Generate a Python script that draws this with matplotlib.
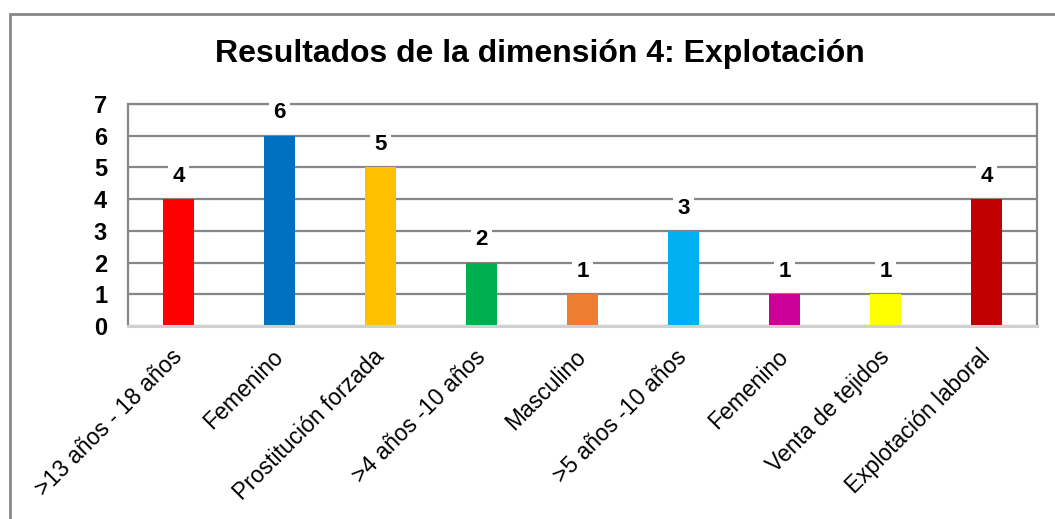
import matplotlib.pyplot as plt
import matplotlib.transforms as mtransforms
from matplotlib.patches import Rectangle

# Datos del gráfico
categorias = ['>13 años - 18 años', 'Femenino', 'Prostitución forzada', '>4 años -10 años',
              'Masculino', '>5 años -10 años', 'Femenino', 'Venta de tejidos', 'Explotación laboral']
valores = [4, 6, 5, 2, 1, 3, 1, 1, 4]
colores = ['#FF0000', '#0070C0', '#FFC000', '#00B050', '#ED7D31',
           '#00B0F0', '#CC0099', '#FFFF00', '#C00000']

plt.rcParams['font.family'] = ['Liberation Sans', 'DejaVu Sans']

W, H = 1055, 519
fig = plt.figure(figsize=(W / 100, H / 100), dpi=100)
ax = fig.add_axes([128 / W, 1 - 326 / H, (1037 - 128) / W, (326 - 104) / H])

x = list(range(len(valores)))
ax.bar(x, valores, width=0.31, color=colores, zorder=3)

ax.set_xlim(-0.5, len(valores) - 0.5)
ax.set_ylim(0, 7)
ax.set_yticks(range(8))
ax.yaxis.grid(True, color='#878787', linewidth=1.6, zorder=0)
ax.tick_params(axis='y', length=0, pad=15, labelsize=17)
for t in ax.get_yticklabels():
    t.set_fontweight('bold')

ax.set_xticks(x)
ax.set_xticklabels(categorias, rotation=45, ha='right', rotation_mode='anchor', fontsize=16.5)
ax.tick_params(axis='x', length=0, pad=14)
desplaz = mtransforms.ScaledTranslation(-8 / 100, 0, fig.dpi_scale_trans)
for t in ax.get_xticklabels():
    t.set_transform(t.get_transform() + desplaz)

for s in ['left', 'right', 'top']:
    ax.spines[s].set_color('#878787')
    ax.spines[s].set_linewidth(1.6)
ax.spines['bottom'].set_color('#d0d0d0')
ax.spines['bottom'].set_linewidth(2.2)
ax.spines['bottom'].set_zorder(4)

# Etiquetas de valores
for xi, v in zip(x, valores):
    ax.text(xi, v + 0.72, str(v), ha='center', va='center', fontsize=16, fontweight='bold',
            bbox=dict(facecolor='white', edgecolor='none', pad=3), zorder=5)

fig.text(540 / W, 1 - 54 / H, 'Resultados de la dimensión 4: Explotación',
         ha='center', va='center', fontsize=23, fontweight='bold')

# Borde exterior del gráfico
fig.patches.append(Rectangle((10 / W, -0.1), 1.2, 1 - 14 / H + 0.1, transform=fig.transFigure,
                             fill=False, edgecolor='#878787', linewidth=2))

fig.savefig('out.png', dpi=100)
